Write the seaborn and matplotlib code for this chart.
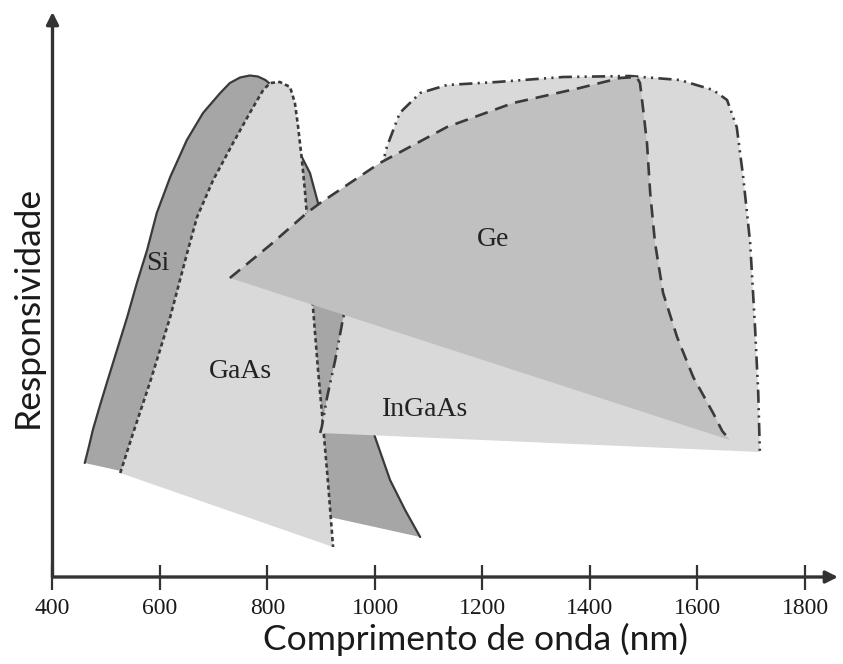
import numpy as np
import pandas as pd
import matplotlib
matplotlib.use("Agg")
import matplotlib.pyplot as plt
import seaborn as sns

# ---- data (wavelength in nm, relative responsivity) ----
si_wl = [460, 468, 475, 488, 501, 520, 539, 557, 576, 594, 619, 650, 680, 712,
         730, 749, 767, 782, 796, 805, 833, 860, 879, 894, 920, 944, 972, 1000,
         1028, 1056, 1084]
si_resp = [0.228, 0.262, 0.294, 0.342, 0.388, 0.454, 0.52, 0.588, 0.654, 0.728,
           0.80, 0.874, 0.928, 0.968, 0.988, 0.999, 1.003, 1.001, 0.994, 0.986,
           0.944, 0.848, 0.808, 0.748, 0.634, 0.514, 0.394, 0.28, 0.194, 0.134,
           0.08]

gaas_wl = [526, 550, 581, 619, 652, 669, 699, 736, 767, 792, 805, 823, 842, 851,
           857, 864, 870, 873, 885, 894, 903, 913, 922]
gaas_resp = [0.208, 0.288, 0.388, 0.52, 0.654, 0.72, 0.794, 0.868, 0.928, 0.974,
             0.988, 0.99, 0.98, 0.948, 0.90, 0.834, 0.768, 0.728, 0.534, 0.414,
             0.308, 0.184, 0.06]

ge_wl = [730, 805, 873, 898, 1009, 1134, 1257, 1381, 1456, 1487, 1493, 1499,
         1506, 1512, 1521, 1536, 1562, 1592, 1629, 1646, 1660]
ge_resp = [0.598, 0.664, 0.728, 0.748, 0.828, 0.90, 0.948, 0.978, 0.998, 1.0,
           0.988, 0.934, 0.868, 0.768, 0.668, 0.568, 0.48, 0.40, 0.328, 0.292,
           0.274]

ingaas_wl = [898, 901, 911, 926, 940, 981, 1022, 1046, 1084, 1134, 1227, 1350,
             1474, 1567, 1629, 1655, 1673, 1685, 1698, 1707, 1713, 1716]
ingaas_resp = [0.288, 0.30, 0.36, 0.434, 0.514, 0.684, 0.86, 0.928, 0.968, 0.984,
               0.99, 1.0, 1.002, 0.994, 0.974, 0.954, 0.90, 0.80, 0.668, 0.50,
               0.368, 0.25]

labels = ["Si", "GaAs", "Ge", "InGaAs"]
label_wl = [596, 749, 1219, 1093]
label_resp = [0.628, 0.41, 0.674, 0.334]

xticks = [400, 600, 800, 1000, 1200, 1400, 1600, 1800]

# ---- figure ----
sns.set_theme(style="white")
plt.rcParams["font.family"] = ["DejaVu Sans"]

W, H = 843, 664
fig = plt.figure(figsize=(W / 100, H / 100), dpi=100)
ax = fig.add_axes([52.5 / W, 87 / H, (838 - 52.5) / W, (577 - 12) / H])
ax.set_xlim(400, 1861.4)
ax.set_ylim(0, 1.13)

edge = "#3a3a3a"
shapes = [
    (si_wl, si_resp, "#a6a6a6", "-", 1.6),
    (gaas_wl, gaas_resp, "#d9d9d9", (0, (1.6, 1.2)), 1.9),
    (ingaas_wl, ingaas_resp, "#d9d9d9", (0, (5, 2, 0.8, 2, 0.8, 2)), 1.9),
    (ge_wl, ge_resp, "#c0c0c0", (0, (5, 3)), 1.9),
]
z = 1
for wl, rp, fc, ls, lw in shapes:
    ax.fill(wl, rp, color=fc, lw=0, zorder=z)
    df = pd.DataFrame({"wl": wl, "resp": rp})
    sns.lineplot(data=df, x="wl", y="resp", sort=False, estimator=None, ax=ax,
                 color=edge, linewidth=lw, linestyle=ls, zorder=z + 0.5)
    z += 1

for t, xw, yr in zip(labels, label_wl, label_resp):
    ax.text(xw, yr, t, ha="center", va="center", fontsize=20,
            family="Liberation Serif", color="#222222", zorder=10)

# axes with arrows
for s in ax.spines.values():
    s.set_visible(False)
ax.annotate("", xy=(1.0, 0), xytext=(0, 0), xycoords="axes fraction",
            arrowprops=dict(arrowstyle="-|>", lw=2.4, color="#333333",
                            mutation_scale=18, shrinkA=0, shrinkB=0), zorder=20)
ax.annotate("", xy=(0, 1.0), xytext=(0, 0), xycoords="axes fraction",
            arrowprops=dict(arrowstyle="-|>", lw=2.4, color="#333333",
                            mutation_scale=18, shrinkA=0, shrinkB=0), zorder=20)

ax.set_xticks(xticks)
ax.set_xticklabels([str(v) for v in xticks], family="Liberation Serif",
                   fontsize=17, color="#1a1a1a")
ax.set_yticks([])
ax.tick_params(axis="x", direction="inout", length=18, width=1.6,
               colors="#333333", pad=6, bottom=True)
for lab in ax.get_xticklabels():
    lab.set_color("#1a1a1a")
ax.set_xlabel("Comprimento de onda (nm)", family="Lato", fontsize=25.5,
              color="#1a1a1a", labelpad=3)
ax.set_ylabel("Responsividade", family="Lato", fontsize=25.5,
              color="#1a1a1a", labelpad=6)
ax.xaxis.label.set_x(0.538)
ax.yaxis.label.set_y(0.478)
ax.set_facecolor("white")

fig.savefig("out.png", dpi=100, facecolor="white")
